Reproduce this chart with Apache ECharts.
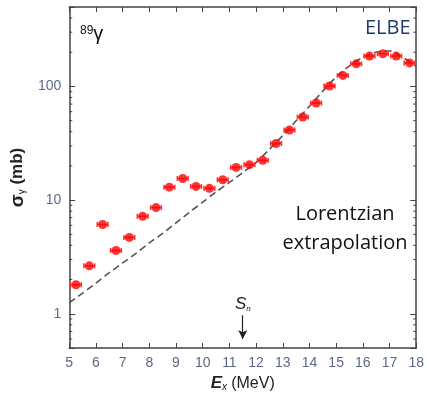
<!DOCTYPE html>
<html><head><meta charset="utf-8">
<script src="https://cdn.jsdelivr.net/npm/echarts@6/dist/echarts.min.js"></script>
<style>html,body{margin:0;padding:0;background:#fff}#c{width:427px;height:398px}</style>
</head><body><div id="c"></div>
<script>
// Data
const energies = [5.25,5.75,6.25,6.75,7.25,7.75,8.25,8.75,9.25,9.75,10.25,10.75,11.25,11.75,12.25,12.75,13.25,13.75,14.25,14.75,15.25,15.75,16.25,16.75,17.25,17.75];
const sigma = [1.8,2.64,6.1,3.6,4.7,7.2,8.6,13,15.5,13.2,12.7,15.1,19.4,20.5,22.4,31.5,41.4,53.8,71.5,101,125,158,185,194,185,161];
const fitE = [5,5.5,6,6.5,7,7.5,8,8.5,9,9.5,10,10.5,11,11.5,12,12.5,13,13.5,14,14.5,15,15.5,16,16.5,17,17.5,18];
const fitSigma = [1.25,1.52,1.86,2.3,2.8,3.4,4.2,5.1,6.3,7.8,9.6,11.8,14.3,17.5,21.5,28,37,50,67,91,121,152,180,200,205,180,150];
const xTicks = [5,6,7,8,9,10,11,12,13,14,15,16,17,18];
const yMajor = [1,10,100];
const yMinor = [0.6,0.7,0.8,0.9,2,3,4,5,6,7,8,9,20,30,40,50,60,70,80,90,200,300,400];
const snEnergy = 11.5;

const X0 = 5, X1 = 18, Y0 = 0.5, Y1 = 500;
const labelFont = "'Liberation Sans',Arial,sans-serif";
const labelColor = '#5d6886';

const chart = echarts.init(document.getElementById('c'), null, {renderer:'canvas'});
const option = {
  animation:false,
  grid:{left:63, right:7, top:7, bottom:50, containLabel:false},
  xAxis:[{
    type:'value', min:X0, max:X1, interval:1,
    axisLine:{show:true, onZero:false, lineStyle:{color:'#444', width:1.5}},
    axisTick:{show:true, inside:true, length:5, lineStyle:{color:'#444'}},
    axisLabel:{margin:8, fontSize:14, color:labelColor, fontFamily:labelFont},
    splitLine:{show:false},
    name:'{e|E}{s|x} {u|(MeV)}', nameLocation:'middle', nameGap:25,
    nameTextStyle:{fontSize:15, rich:{
      e:{fontSize:17, fontStyle:'italic', fontWeight:'bold', color:'#222', fontFamily:'Liberation Sans'},
      s:{fontSize:10, fontStyle:'italic', color:'#222', padding:[8,0,0,0], fontFamily:'Liberation Sans'},
      u:{fontSize:16, color:'#222', fontFamily:'Liberation Sans'}
    }}
  },{
    type:'value', position:'top', min:X0, max:X1, interval:1,
    axisLine:{show:true, onZero:false, lineStyle:{color:'#444', width:1.5}},
    axisTick:{show:true, inside:true, length:5, lineStyle:{color:'#444'}},
    axisLabel:{show:false}, splitLine:{show:false}
  }],
  yAxis:[{
    type:'log', logBase:10, min:Y0, max:Y1,
    axisLine:{show:true, onZero:false, lineStyle:{color:'#444', width:1.5}},
    axisTick:{show:true, inside:true, length:6, lineStyle:{color:'#444'}},
    axisLabel:{margin:8, fontSize:14, color:labelColor, fontFamily:labelFont,
      formatter:v => (yMajor.some(m => Math.abs(m - v) < 1e-9) ? String(v) : '')},
    splitLine:{show:false},
    name:'{g|σ}{s|γ} {u|(mb)}', nameLocation:'middle', nameGap:34, nameRotate:90,
    nameTextStyle:{fontSize:17, rich:{
      g:{fontSize:19, fontWeight:'bold', color:'#222', fontFamily:'Liberation Sans'},
      s:{fontSize:10, color:'#222', fontFamily:'Liberation Sans', padding:[9,0,0,0]},
      u:{fontSize:17, fontWeight:'bold', color:'#222', fontFamily:'Liberation Sans'}
    }}
  },{
    type:'log', logBase:10, min:Y0, max:Y1, position:'right',
    axisLine:{show:true, onZero:false, lineStyle:{color:'#444', width:1.5}},
    axisTick:{show:true, inside:true, length:6, lineStyle:{color:'#444'}},
    axisLabel:{show:false}, splitLine:{show:false}
  }],
  series:[
    { // minor log ticks on left and right frame
      type:'custom', xAxisIndex:0, yAxisIndex:0, silent:true, z:1,
      data: yMinor.map(v => [X0, v]),
      renderItem:(params, api) => {
        const v = api.value(1);
        const pl = api.coord([X0, v]), pr = api.coord([X1, v]);
        return {type:'group', children:[
          {type:'line', shape:{x1:pl[0], y1:pl[1], x2:pl[0]+3, y2:pl[1]}, style:{stroke:'#444', lineWidth:1}},
          {type:'line', shape:{x1:pr[0], y1:pr[1], x2:pr[0]-3, y2:pr[1]}, style:{stroke:'#444', lineWidth:1}}
        ]};
      }
    },
    { // Lorentzian extrapolation
      type:'line', xAxisIndex:0, yAxisIndex:0, smooth:0.3, symbol:'none', z:2,
      data: fitE.map((e,i) => [e, fitSigma[i]]),
      lineStyle:{color:'#555', width:1.6, type:[7,4]},
      markLine:{
        silent:true, symbol:['none','arrow'], symbolSize:[7,9],
        lineStyle:{color:'#222', width:1.2, type:'solid'},
        label:{show:false},
        data:[[{coord:[snEnergy, 0.97]},{coord:[snEnergy, 0.6]}]]
      }
    },
    { // horizontal error bars
      type:'custom', xAxisIndex:0, yAxisIndex:0, z:3,
      data: energies.map((e,i) => [e, sigma[i]]),
      renderItem:(params, api) => {
        const e = api.value(0), s = api.value(1);
        const a = api.coord([e-0.2, s]), b = api.coord([e+0.2, s]);
        const st = {stroke:'#ff3030', lineWidth:1.6};
        return {type:'group', children:[
          {type:'line', shape:{x1:a[0], y1:a[1], x2:b[0], y2:b[1]}, style:st},
          {type:'line', shape:{x1:a[0], y1:a[1]-2.5, x2:a[0], y2:a[1]+2.5}, style:st},
          {type:'line', shape:{x1:b[0], y1:b[1]-2.5, x2:b[0], y2:b[1]+2.5}, style:st}
        ]};
      }
    },
    {
      type:'scatter', xAxisIndex:0, yAxisIndex:0, z:4,
      data: energies.map((e,i) => [e, sigma[i]]),
      symbol:'circle', symbolSize:9,
      itemStyle:{color:'#ff0000'}
    }
  ],
  graphic:[
    {type:'text', x:80, y:24, style:{
      text:'{a|89}{b|γ}', rich:{
        a:{fontSize:12, fill:'#111', fontFamily:'Liberation Sans', padding:[0,0,7,0]},
        b:{fontSize:20, fill:'#111', fontFamily:'Liberation Sans'}
      }}},
    {type:'text', x:365, y:18, style:{text:'ELBE', fontSize:20, fill:'#1f3a6b', fontFamily:"'Open Sans',sans-serif"}},
    {type:'text', x:345, y:200, style:{text:'Lorentzian\nextrapolation', fontSize:20, lineHeight:29, fill:'#111', align:'center', fontFamily:"'Open Sans',sans-serif"}},
    {type:'text', x:235, y:296, style:{
      text:'{s|S}{n|n}', rich:{
        s:{fontSize:17, fontStyle:'italic', fill:'#222', fontFamily:'Liberation Sans'},
        n:{fontSize:8, fontStyle:'italic', fill:'#222', fontFamily:'Liberation Sans', padding:[8,0,0,0]}
      }}}
  ]
};
chart.setOption(option);
</script></body></html>
